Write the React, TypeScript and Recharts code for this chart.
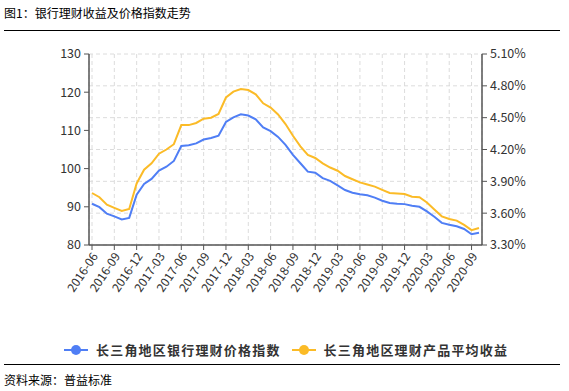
import React from "react"
import { LineChart, Line, XAxis, YAxis, CartesianGrid } from "recharts"

const months = [
  "2016-06", "2016-07", "2016-08", "2016-09", "2016-10", "2016-11", "2016-12",
  "2017-01", "2017-02", "2017-03", "2017-04", "2017-05", "2017-06", "2017-07", "2017-08", "2017-09", "2017-10", "2017-11", "2017-12",
  "2018-01", "2018-02", "2018-03", "2018-04", "2018-05", "2018-06", "2018-07", "2018-08", "2018-09", "2018-10", "2018-11", "2018-12",
  "2019-01", "2019-02", "2019-03", "2019-04", "2019-05", "2019-06", "2019-07", "2019-08", "2019-09", "2019-10", "2019-11", "2019-12",
  "2020-01", "2020-02", "2020-03", "2020-04", "2020-05", "2020-06", "2020-07", "2020-08", "2020-09", "2020-10",
]

// 长三角地区银行理财价格指数 (left axis)
const priceIndex = [
  90.8, 89.9, 88.2, 87.5, 86.7, 87.1, 93.2,
  96.0, 97.3, 99.5, 100.5, 102.0, 105.9, 106.1, 106.6, 107.6, 108.0, 108.6, 112.2,
  113.4, 114.2, 113.9, 112.9, 110.8, 109.8, 108.3, 106.2, 103.6, 101.4, 99.2, 98.9,
  97.5, 96.8, 95.6, 94.4, 93.7, 93.3, 93.0, 92.4, 91.6, 91.0, 90.8, 90.7,
  90.3, 90.0, 88.8, 87.4, 85.8, 85.3, 84.9, 84.2, 82.8, 83.2,
]

// 长三角地区理财产品平均收益, % (right axis)
const avgYield = [
  3.79, 3.75, 3.68, 3.65, 3.62, 3.64, 3.88,
  4.01, 4.07, 4.16, 4.2, 4.25, 4.43, 4.43, 4.45, 4.49, 4.5, 4.535, 4.69,
  4.745, 4.77, 4.76, 4.72, 4.635, 4.595, 4.53, 4.44, 4.33, 4.23, 4.15, 4.12,
  4.07, 4.03, 4.0, 3.95, 3.92, 3.89, 3.87, 3.85, 3.82, 3.79, 3.785, 3.78,
  3.755, 3.75, 3.7, 3.635, 3.57, 3.545, 3.53, 3.49, 3.44, 3.46,
]

const leftTicks = [80, 90, 100, 110, 120, 130]
const rightTicks = [3.3, 3.6, 3.9, 4.2, 4.5, 4.8, 5.1]

const BLUE = "#4f7ef5"
const ORANGE = "#fbbb27"
const AXIS = "#555"
const FONT = '"Noto Sans CJK SC", "Noto Sans", sans-serif'

const data = months.map((m, i) => ({ month: m, index: priceIndex[i], yield: avgYield[i] }))

const AngledTick = ({ x, y, payload }: any) => (
  <g transform={`translate(${x + 3},${y + 2})`}>
    <text x={0} y={0} dy="0.35em" textAnchor="end" transform="rotate(-56)" fill="#333" fontSize={12} fontFamily={FONT}>
      {payload.value}
    </text>
  </g>
)

const LegendMark = ({ color }: { color: string }) => (
  <svg width={24} height={12} style={{ verticalAlign: "middle", display: "block" }}>
    <line x1={0} y1={6} x2={24} y2={6} stroke={color} strokeWidth={2} />
    <circle cx={12} cy={6} r={5} fill={color} />
  </svg>
)

export default function App() {
  const tickStyle = { fontSize: 12.5, fill: "#333", fontFamily: FONT }
  return (
    <div style={{ position: "relative", width: 569, height: 391, background: "#fff", fontFamily: FONT }}>
      <style>{"body{margin:0}"}</style>
      <div style={{ position: "absolute", left: 4, top: 6, fontSize: 12, color: "#000", lineHeight: "14px" }}>
        图1：银行理财收益及价格指数走势
      </div>
      <div style={{ position: "absolute", left: 4, top: 30, width: 556, height: 1, background: "#000" }} />

      <div style={{ position: "absolute", left: 0, top: 0 }}>
        <LineChart width={569} height={300} data={data} margin={{ top: 54, right: 0, bottom: 0, left: 0 }}>
          <CartesianGrid yAxisId="right" stroke="#dcdcdc" strokeDasharray="4 3" />
          <XAxis
            dataKey="month"
            interval={2}
            height={55}
            padding={{ left: 3, right: 3 }}
            tick={<AngledTick />}
            tickSize={5}
            axisLine={{ stroke: AXIS, strokeWidth: 1.5 }}
            tickLine={{ stroke: AXIS }}
          />
          <YAxis
            yAxisId="left"
            width={89}
            domain={[80, 130]}
            ticks={leftTicks}
            tick={tickStyle}
            tickSize={5}
            tickMargin={3}
            axisLine={{ stroke: AXIS, strokeWidth: 1.5 }}
            tickLine={{ stroke: AXIS }}
          />
          <YAxis
            yAxisId="right"
            orientation="right"
            width={87}
            domain={[3.3, 5.1]}
            ticks={rightTicks}
            tickFormatter={(v: number) => v.toFixed(2) + "%"}
            tick={tickStyle}
            tickSize={5}
            tickMargin={3}
            axisLine={{ stroke: AXIS, strokeWidth: 1.5 }}
            tickLine={{ stroke: AXIS }}
          />
          <Line yAxisId="left" type="linear" dataKey="index" stroke={BLUE} strokeWidth={2} dot={false} isAnimationActive={false} />
          <Line yAxisId="right" type="linear" dataKey="yield" stroke={ORANGE} strokeWidth={2} dot={false} isAnimationActive={false} />
        </LineChart>
      </div>

      <div style={{ position: "absolute", left: 64, top: 340, display: "flex", alignItems: "center", fontSize: 13, fontWeight: "bold", color: "#333", letterSpacing: 1.2 }}>
        <LegendMark color={BLUE} />
        <span style={{ marginLeft: 8 }}>长三角地区银行理财价格指数</span>
        <span style={{ marginLeft: 11 }}><LegendMark color={ORANGE} /></span>
        <span style={{ marginLeft: 8 }}>长三角地区理财产品平均收益</span>
      </div>
      <div style={{ position: "absolute", left: 4, top: 364, width: 556, height: 1, background: "#000" }} />
      <div style={{ position: "absolute", left: 4, top: 373, fontSize: 12, color: "#000", lineHeight: "14px" }}>
        资料来源：普益标准
      </div>
    </div>
  )
}
